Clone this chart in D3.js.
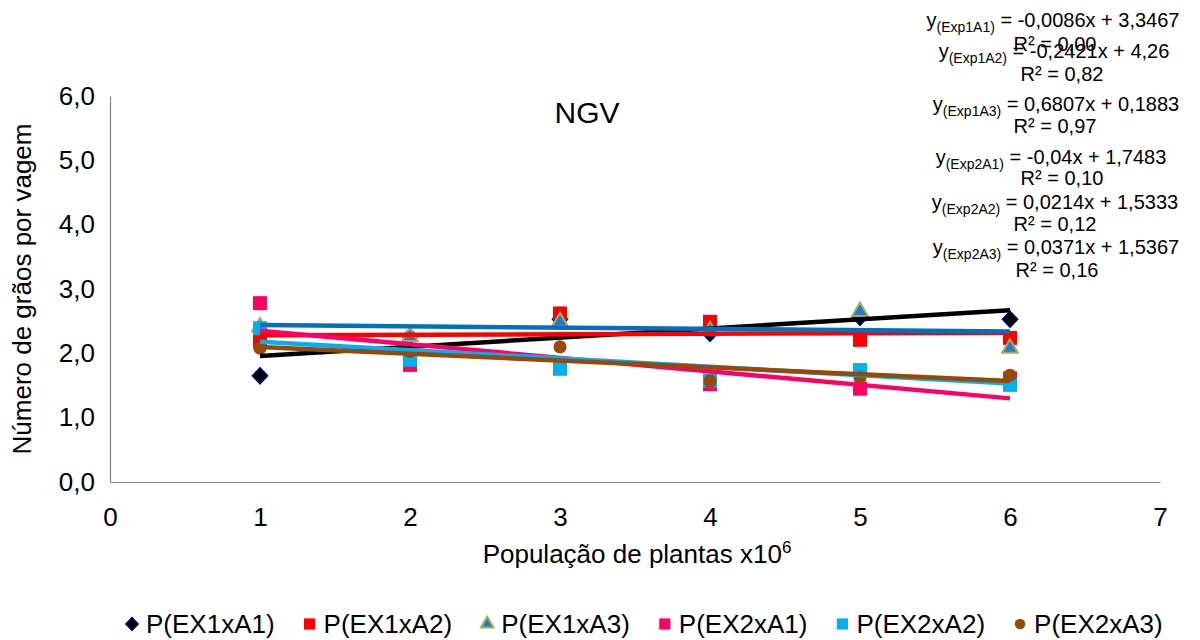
<!DOCTYPE html>
<html>
<head>
<meta charset="utf-8">
<script src="https://cdn.jsdelivr.net/npm/d3@7"></script>
<style>
  html, body { margin: 0; padding: 0; background: #ffffff; }
  svg { display: block; font-family: Arial, "Liberation Sans", sans-serif; }
</style>
</head>
<body>
<svg id="chart" width="1200" height="640"></svg>
<script>
// ---- data ----
const xValues = [1, 2, 3, 4, 5, 6];
const seriesNames = ["P(EX1xA1)", "P(EX1xA2)", "P(EX1xA3)", "P(EX2xA1)", "P(EX2xA2)", "P(EX2xA3)"];
const ex1a1 = [1.65, 2.26, 2.53, 2.31, 2.56, 2.53];
const ex1a2 = [2.18, 1.88, 2.62, 2.49, 2.21, 2.24];
const ex1a3 = [2.41, 2.26, 2.49, 2.35, 2.65, 2.08];
const ex2a1 = [2.78, 1.82, 1.78, 1.52, 1.45, 1.61];
const ex2a2 = [2.39, 1.90, 1.76, 1.58, 1.74, 1.51];
const ex2a3 = [2.08, 2.03, 2.10, 1.57, 1.62, 1.66];

// linear trend lines, value at the first and last x
const trendX = [1, 6];
const trendStart = [1.96, 2.28, 2.44, 2.35, 2.18, 2.10];
const trendEnd = [2.67, 2.32, 2.34, 1.30, 1.53, 1.57];

// regression labels
const eqNames = ["Exp1A1", "Exp1A2", "Exp1A3", "Exp2A1", "Exp2A2", "Exp2A3"];
const eqText = ["-0,0086x + 3,3467", "-0,2421x + 4,26", "0,6807x + 0,1883",
                "-0,04x + 1,7483", "0,0214x + 1,5333", "0,0371x + 1,5367"];
const r2Text = ["0,00", "0,82", "0,97", "0,10", "0,12", "0,16"];

const xTicks = [0, 1, 2, 3, 4, 5, 6, 7];
const yTicks = [0, 1, 2, 3, 4, 5, 6];

// ---- styles and layout ----
const seriesValues = [ex1a1, ex1a2, ex1a3, ex2a1, ex2a2, ex2a3];
const lineColors = ["#000000", "#FF0000", "#0070C0", "#FF0066", "#00B0F0", "#984807"];
const markerStyles = [
  { shape: "diamond",  fill: "#000000", stroke: "#000080", sw: 1.5 },
  { shape: "square",   fill: "#FF0000", stroke: "none",    sw: 0 },
  { shape: "triangle", fill: "#2C78C4", stroke: "#96B35C", sw: 2 },
  { shape: "square",   fill: "#FF0066", stroke: "none",    sw: 0 },
  { shape: "square",   fill: "#00B0F0", stroke: "none",    sw: 0 },
  { shape: "circle",   fill: "#984807", stroke: "none",    sw: 0 }
];
// label lines: [centre x, centre y] of equation line and R² line
const eqPos = [[1053, 20], [1054, 51], [1056, 104], [1051, 157], [1055, 202], [1056, 247]];
const r2Pos = [[1055, 44], [1062, 74], [1055, 126], [1062, 178], [1055, 224], [1057, 270]];

const svg = d3.select("#chart");
const axisColor = "#868686";

const x = d3.scaleLinear().domain([0, 7]).range([110, 1160]);
const y = d3.scaleLinear().domain([0, 6]).range([482, 96]);

const rhombus = {
  draw(ctx, size) {
    const h = Math.sqrt(size) / 2;
    ctx.moveTo(0, -h);
    ctx.lineTo(h * 0.95, 0);
    ctx.lineTo(0, h);
    ctx.lineTo(-h * 0.95, 0);
    ctx.closePath();
  }
};
function symbolPath(shape, scale) {
  const s = scale || 1;
  if (shape === "diamond") return d3.symbol(rhombus, 256 * s * s)();
  if (shape === "square") return d3.symbol(d3.symbolSquare, 196 * s * s)();
  if (shape === "triangle") return d3.symbol(d3.symbolTriangle, 105 * s * s)();
  return d3.symbol(d3.symbolCircle, 135 * s * s)();
}

// ---- axes ----
const fmt = d => d.toFixed(1).replace(".", ",");
const yAxis = svg.append("g")
  .attr("transform", `translate(${x(0)},0)`)
  .call(d3.axisLeft(y).tickValues(yTicks).tickSize(0).tickSizeOuter(0).tickPadding(15).tickFormat(fmt));
const xAxis = svg.append("g")
  .attr("transform", `translate(0,${y(0)})`)
  .call(d3.axisBottom(x).tickValues(xTicks).tickSize(0).tickSizeOuter(0).tickPadding(26).tickFormat(d3.format("d")));
[yAxis, xAxis].forEach(g => {
  g.select(".domain").attr("stroke", axisColor).attr("stroke-width", 1.2);
  g.selectAll("text").attr("font-size", 26).attr("fill", "#000").attr("font-family", "Arial, 'Liberation Sans', sans-serif");
});

// ---- markers ----
seriesValues.forEach((vals, i) => {
  const st = markerStyles[i];
  svg.append("g").selectAll("path")
    .data(vals.map((v, j) => ({ x: xValues[j], y: v })))
    .join("path")
    .attr("d", symbolPath(st.shape))
    .attr("transform", d => `translate(${x(d.x)},${y(d.y)})`)
    .attr("fill", st.fill)
    .attr("stroke", st.stroke)
    .attr("stroke-width", st.sw);
});

// ---- trend lines ----
const line = d3.line().x(d => x(d[0])).y(d => y(d[1]));
seriesValues.forEach((vals, i) => {
  svg.append("path")
    .attr("d", line([[trendX[0], trendStart[i]], [trendX[1], trendEnd[i]]]))
    .attr("fill", "none")
    .attr("stroke", lineColors[i])
    .attr("stroke-width", 4.5);
});

// ---- titles ----
svg.append("text")
  .attr("x", 587).attr("y", 123)
  .attr("text-anchor", "middle")
  .attr("font-size", 30)
  .text("NGV");

svg.append("text")
  .attr("transform", "translate(31,289) rotate(-90)")
  .attr("text-anchor", "middle")
  .attr("font-size", 26)
  .text("Número de grãos por vagem");

const xt = svg.append("text")
  .attr("x", 637).attr("y", 563)
  .attr("text-anchor", "middle")
  .attr("font-size", 26);
xt.append("tspan").text("População de plantas x10");
xt.append("tspan").attr("font-size", 17).attr("dy", -10).text("6");

// ---- regression labels ----
eqNames.forEach((n, i) => {
  const t = svg.append("text")
    .attr("x", eqPos[i][0]).attr("y", eqPos[i][1] + 7)
    .attr("text-anchor", "middle")
    .attr("font-size", 20);
  t.append("tspan").text("y");
  t.append("tspan").attr("font-size", 14).attr("dy", 5).text(`(${n})`);
  t.append("tspan").attr("dy", -5).text(` = ${eqText[i]}`);

  svg.append("text")
    .attr("x", r2Pos[i][0]).attr("y", r2Pos[i][1] + 7)
    .attr("text-anchor", "middle")
    .attr("font-size", 20)
    .text(`R² = ${r2Text[i]}`);
});

// ---- legend ----
const legend = svg.append("g").attr("transform", "translate(0,624)");
let cursor = 132;
seriesNames.forEach((name, i) => {
  const st = markerStyles[i];
  const item = legend.append("g").attr("transform", `translate(${cursor},0)`);
  item.append("path")
    .attr("d", symbolPath(st.shape, 0.8))
    .attr("fill", st.fill)
    .attr("stroke", st.stroke)
    .attr("stroke-width", st.sw);
  const txt = item.append("text")
    .attr("x", 14).attr("y", 9)
    .attr("font-size", 26)
    .text(name);
  cursor += 14 + txt.node().getComputedTextLength() + 35;
});
</script>
</body>
</html>
